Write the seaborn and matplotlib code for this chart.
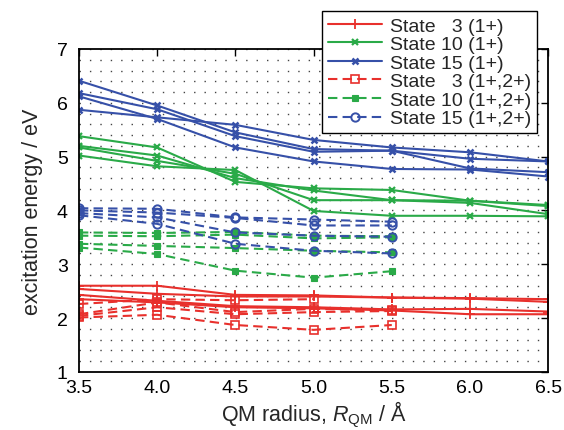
import matplotlib
matplotlib.use("Agg")
import matplotlib.pyplot as plt
import seaborn as sns
import pandas as pd
import numpy as np
from matplotlib.ticker import MultipleLocator, FormatStrFormatter

# ---------------- data ----------------
radius_full = [3.5, 4.0, 4.5, 5.0, 5.5, 6.0, 6.5]
radius_short = [3.5, 4.0, 4.5, 5.0, 5.5]

state3_1p = [
    [2.60, 2.60, 2.43, 2.42, 2.38, 2.37, 2.35],
    [2.54, 2.45, 2.40, 2.40, 2.38, 2.36, 2.30],
    [2.43, 2.32, 2.22, 2.20, 2.16, 2.17, 2.12],
    [2.35, 2.29, 2.20, 2.18, 2.14, 2.07, 2.07],
]
state10_1p = [
    [5.38, 5.17, 4.53, 4.41, 4.38, 4.18, 4.10],
    [5.20, 5.02, 4.60, 4.37, 4.19, 4.18, 4.08],
    [5.17, 4.92, 4.68, 4.19, 4.19, 4.14, 3.93],
    [5.02, 4.82, 4.75, 3.99, 3.90, 3.90, 3.89],
]
state15_1p = [
    [6.41, 5.95, 5.45, 5.14, 5.11, 4.96, 4.91],
    [6.18, 5.88, 5.38, 5.09, 5.11, 4.78, 4.71],
    [6.12, 5.70, 5.17, 4.91, 4.77, 4.76, 4.63],
    [5.87, 5.73, 5.59, 5.31, 5.17, 5.08, 4.91],
]
state3_12p = [
    [2.26, 2.35, 2.33, 2.35, np.nan],
    [2.07, 2.29, 2.11, 2.17, 2.14],
    [2.04, 2.20, 2.07, 2.11, 2.13],
    [2.01, 2.06, 1.87, 1.78, 1.87],
]
state10_12p = [
    [3.59, 3.58, 3.60, 3.53, 3.52],
    [3.53, 3.52, 3.55, 3.48, 3.50],
    [3.38, 3.34, 3.30, 3.25, 3.22],
    [3.31, 3.19, 2.88, 2.75, 2.87],
]
state15_12p = [
    [4.04, 4.03, 3.87, 3.83, 3.79],
    [4.00, 3.96, 3.86, 3.72, 3.72],
    [3.95, 3.87, 3.59, 3.53, 3.51],
    [3.91, 3.75, 3.38, 3.25, 3.20],
]

labels = ["State   3 (1+)", "State 10 (1+)", "State 15 (1+)",
          "State   3 (1+,2+)", "State 10 (1+,2+)", "State 15 (1+,2+)"]
x_ticks = [3.5, 4.0, 4.5, 5.0, 5.5, 6.0, 6.5]
y_ticks = [1, 2, 3, 4, 5, 6, 7]

# ---------------- style ----------------
sns.set_theme(style="white")
plt.rcParams["font.family"] = ["Liberation Sans", "DejaVu Sans"]
plt.rcParams["mathtext.fontset"] = "custom"
plt.rcParams["mathtext.rm"] = "Liberation Sans"
plt.rcParams["mathtext.it"] = "Liberation Sans:italic"

RED = "#e8302c"
GREEN = "#2aaa48"
BLUE = "#3650a8"
DASH = (0, (4.5, 2.5))

groups = [
    (state3_1p, radius_full, RED, "-", dict(marker="+", markersize=7, markeredgewidth=1.3)),
    (state10_1p, radius_full, GREEN, "-", dict(marker="x", markersize=5, markeredgewidth=1.6)),
    (state15_1p, radius_full, BLUE, "-", dict(marker="x", markersize=5, markeredgewidth=1.8)),
    (state3_12p, radius_short, RED, DASH, dict(marker="s", markersize=6, markerfacecolor="none", markeredgewidth=1.2)),
    (state10_12p, radius_short, GREEN, DASH, dict(marker="s", markersize=4.5, markeredgewidth=0.8)),
    (state15_12p, radius_short, BLUE, DASH, dict(marker="o", markersize=6, markerfacecolor="none", markeredgewidth=1.4)),
]

fig = plt.figure(figsize=(5.64, 4.31), dpi=100)
ax = fig.add_axes([0.140, 0.135, 0.832, 0.749])

handles = []
for (runs, xs, color, ls, mk), lab in zip(groups, labels):
    for i, vals in enumerate(runs):
        df = pd.DataFrame({"radius": xs, "energy": vals}).dropna()
        sns.lineplot(data=df, x="radius", y="energy", ax=ax, color=color,
                     linestyle=ls, linewidth=1.5, estimator=None, sort=False,
                     markeredgecolor=color, legend=False, **mk)
        if i == 0:
            handles.append(ax.get_lines()[-1])

ax.set_xlim(3.5, 6.5)
ax.set_ylim(1, 7)
ax.set_xticks(x_ticks)
ax.set_yticks(y_ticks)
ax.xaxis.set_major_formatter(FormatStrFormatter("%.1f"))
ax.yaxis.set_minor_locator(MultipleLocator(0.2))
ax.grid(False)
ax.grid(which="both", axis="y", color="#444444", linestyle=(0, (1, 6.5)), linewidth=1.0)
ax.set_axisbelow(True)

ax.tick_params(axis="both", which="major", direction="in", length=5, width=1.0,
               top=True, right=True, labelsize=14, colors="black")
ax.tick_params(axis="x", which="major", pad=5)
ax.tick_params(axis="y", which="major", pad=8)
ax.tick_params(axis="y", which="minor", length=0)
for sp in ax.spines.values():
    sp.set_color("black")
    sp.set_linewidth(1.3)

ax.set_xlabel(r"QM radius, $R_{\mathrm{QM}}$ / Å", fontsize=15.5, labelpad=2)
ax.set_ylabel("excitation energy / eV", fontsize=15.5, labelpad=10)

leg = fig.legend(handles, labels, loc="upper right",
                 bbox_to_anchor=(0.952, 0.972), bbox_transform=fig.transFigure,
                 fontsize=14, frameon=True, fancybox=False, framealpha=1,
                 edgecolor="black", handlelength=2.8, handletextpad=0.4,
                 labelspacing=0.05, borderpad=0.3, borderaxespad=0, numpoints=1)
leg.get_frame().set_linewidth(1.0)
leg.set_zorder(10)

fig.savefig("out.png", dpi=100)
